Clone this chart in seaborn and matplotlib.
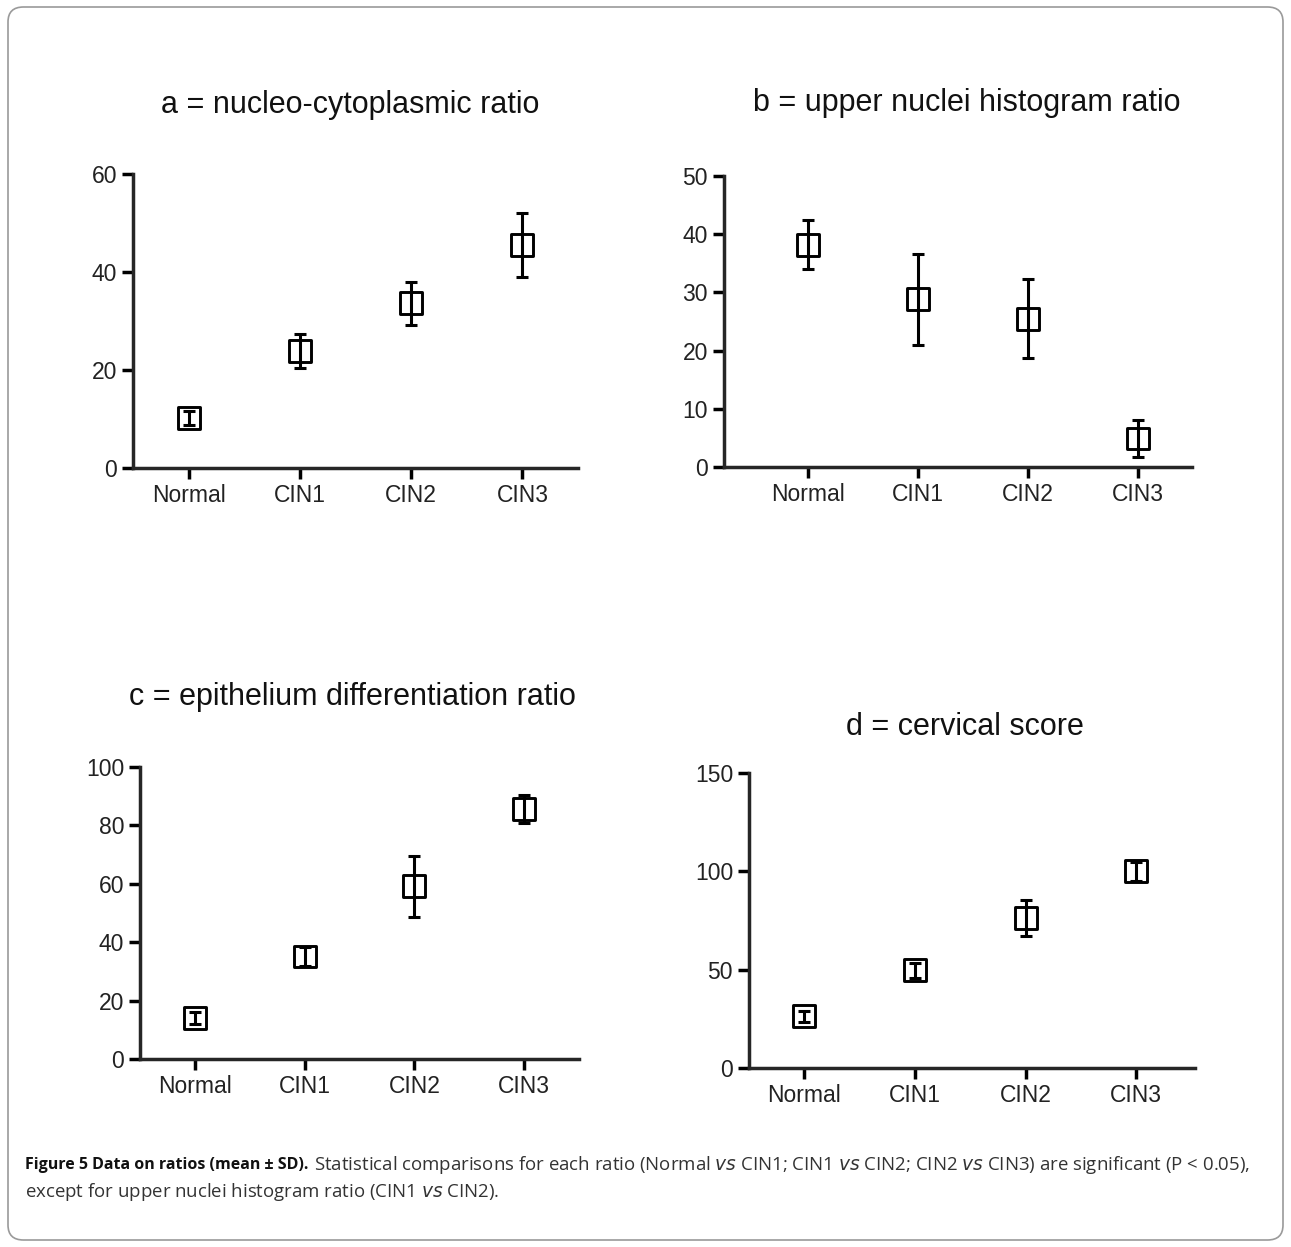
import numpy as np
import pandas as pd
import seaborn as sns
from matplotlib import pyplot as plt
from matplotlib.patches import FancyBboxPatch

# groups on the x axis
groups = ['Normal', 'CIN1', 'CIN2', 'CIN3']

# mean and SD for each ratio
nc_mean = [10.2, 23.9, 33.6, 45.5]
nc_sd = [1.5, 3.5, 4.4, 6.5]

unh_mean = [38.2, 28.8, 25.5, 4.9]
unh_sd = [4.2, 7.8, 6.8, 3.2]

ed_mean = [14.0, 35.1, 59.1, 85.6]
ed_sd = [2.0, 3.2, 10.5, 4.8]

cs_mean = [26.2, 49.6, 76.3, 100.0]
cs_sd = [3.0, 4.0, 9.0, 5.0]

titles = ['a = nucleo-cytoplasmic ratio', 'b = upper nuclei histogram ratio',
          'c = epithelium differentiation ratio', 'd = cervical score']

sns.set_theme(style='ticks')
plt.rcParams['font.family'] = ['Liberation Sans', 'DejaVu Sans']

W, H = 1291, 1247
fig = plt.figure(figsize=(W / 100, H / 100), dpi=100)

# rounded frame around the whole figure
frame = FancyBboxPatch((8 / W, 7 / H), (W - 16) / W, (H - 14) / H,
                       boxstyle='round,pad=0,rounding_size=0.012',
                       transform=fig.transFigure, fill=False,
                       edgecolor='#9a9a9a', linewidth=1.2)
fig.patches.append(frame)


def px_axes(left, right, top, bottom):
    return fig.add_axes([left / W, 1 - bottom / H, (right - left) / W, (bottom - top) / H])


panels = [
    # (pixel box, means, sds, ylim, yticks, xlim, title y pixel, title x pixel)
    ((133, 578, 174, 468), nc_mean, nc_sd, 60, [0, 20, 40, 60], (-0.5, 3.5), 105, 350),
    ((724, 1192, 176, 467), unh_mean, unh_sd, 50, [0, 10, 20, 30, 40, 50], (-0.76, 3.49), 103, 967),
    ((140, 579, 767, 1059), ed_mean, ed_sd, 100, [0, 20, 40, 60, 80, 100], (-0.5, 3.5), 697, 352),
    ((749, 1195, 773, 1068), cs_mean, cs_sd, 150, [0, 50, 100, 150], (-0.5, 3.53), 727, 965),
]

for (box, means, sds, ymax, yticks, xlim, ty, tx), title in zip(panels, titles):
    ax = px_axes(*box)
    df = pd.DataFrame({'group': groups, 'mean': means, 'sd': sds})
    ax.errorbar(np.arange(len(groups)), df['mean'], yerr=df['sd'], fmt='none',
                ecolor='black', elinewidth=2.2, capsize=4.5, capthick=2.2, zorder=2)
    sns.scatterplot(data=df, x='group', y='mean', marker='s', s=250,
                    facecolor='none', edgecolor='black', linewidth=2.1,
                    ax=ax, zorder=3)
    ax.set_ylim(0, ymax)
    ax.set_yticks(yticks)
    ax.set_xlim(*xlim)
    ax.set_xlabel('')
    ax.set_ylabel('')
    sns.despine(ax=ax)
    for s in ['left', 'bottom']:
        ax.spines[s].set_linewidth(2.5)
    ax.tick_params(axis='both', width=2.5, length=8, labelsize=16.5, colors='black',
                   labelcolor='#222222')
    fig.text(tx / W, 1 - ty / H, title, ha='center', va='center', fontsize=22,
             color='#111111')

# caption
cap_font = ['Open Sans', 'DejaVu Sans']
bold = fig.text(25 / W, 1 - 1165 / H, 'Figure 5 Data on ratios (mean \u00b1 SD).', fontsize=11.5,
                fontweight='bold', family=cap_font, va='center', ha='left', color='#111111')
fig.canvas.draw()
bb = bold.get_window_extent()
fig.text((bb.x1 + 6) / W, 1 - 1165 / H,
         'Statistical comparisons for each ratio (Normal $\\it{vs}$ CIN1; CIN1 $\\it{vs}$ CIN2; '
         'CIN2 $\\it{vs}$ CIN3) are significant (P < 0.05),',
         fontsize=13.4, family=cap_font, va='center', ha='left', color='#333333')
fig.text(25 / W, 1 - 1192 / H,
         'except for upper nuclei histogram ratio (CIN1 $\\it{vs}$ CIN2).',
         fontsize=13.4, family=cap_font, va='center', ha='left', color='#333333')

fig.savefig('out.png', dpi=100)
